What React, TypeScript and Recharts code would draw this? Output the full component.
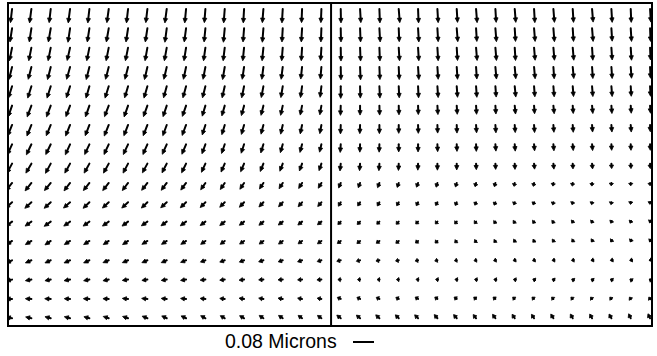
import React from "react";
import { ScatterChart, Scatter, XAxis, YAxis, ReferenceArea, ReferenceLine } from "recharts";

// grid: 34 columns (17 per panel) x 17 rows; displacements in nm, dy positive = down
const columns = Array.from({ length: 34 }, (_, i) => i);
const rows = Array.from({ length: 17 }, (_, i) => i);

const DX_NM: number[][] = [
  [-6, -7, -6, -7, -6, -7, -6, -6, -7, -5, -4, -4, -3, -4, -3, -2, -2, 1, 3, 2, 4, 2, 3, 3, 4, 3, 4, 3, 4, 3, 4, 3, 2, 3],
  [-8, -8, -9, -8, -8, -9, -8, -8, -7, -7, -5, -5, -4, -4, -3, -3, -2, 1, 2, 3, 2, 3, 3, 4, 3, 4, 3, 4, 4, 3, 4, 3, 3, 2],
  [-10, -10, -10, -11, -10, -10, -10, -9, -9, -8, -7, -6, -5, -5, -4, -3, -3, 1, 2, 2, 3, 3, 3, 3, 4, 4, 3, 4, 4, 4, 3, 3, 3, 2],
  [-12, -12, -12, -13, -12, -12, -12, -11, -11, -10, -9, -8, -7, -6, -6, -5, -4, 1, 2, 2, 2, 3, 3, 3, 3, 4, 4, 4, 3, 4, 3, 3, 3, 2],
  [-14, -14, -14, -14, -13, -14, -13, -13, -12, -12, -11, -10, -9, -8, -7, -6, -5, 0, 1, 2, 2, 2, 3, 3, 3, 3, 4, 3, 3, 3, 3, 3, 2, 2],
  [-15, -16, -16, -16, -15, -16, -15, -15, -14, -14, -12, -11, -10, -9, -8, -7, -6, -1, 0, 1, 1, 1, 2, 2, 2, 2, 3, 2, 3, 2, 3, 2, 2, 2],
  [-17, -17, -17, -17, -16, -17, -16, -16, -15, -15, -12, -11, -10, -9, -8, -7, -6, -1, -1, 0, 0, 1, 1, 1, 2, 2, 2, 2, 2, 2, 2, 2, 2, 1],
  [-18, -19, -19, -18, -18, -18, -18, -17, -17, -16, -13, -12, -11, -10, -9, -8, -7, -2, -1, -1, 0, 0, 1, 1, 1, 2, 2, 2, 2, 2, 2, 1, 1, 1],
  [-20, -21, -20, -20, -20, -20, -19, -19, -18, -17, -15, -14, -13, -12, -11, -10, -9, -3, -2, -2, -1, -1, 0, 0, 1, 1, 1, 2, 2, 1, 2, 1, 1, 1],
  [-23, -24, -24, -23, -23, -23, -22, -22, -21, -20, -18, -17, -16, -15, -14, -13, -12, -8, -7, -7, -6, -6, -5, -5, -4, -4, -3, -3, -2, -2, -1, -1, 0, 0],
  [-25, -25, -25, -25, -24, -24, -24, -23, -23, -22, -20, -19, -18, -17, -16, -15, -14, -9, -9, -8, -8, -7, -7, -6, -5, -5, -4, -4, -3, -3, -2, -2, -1, -1],
  [-24, -24, -25, -24, -24, -24, -23, -23, -22, -22, -20, -19, -18, -17, -17, -16, -15, -11, -11, -10, -10, -9, -8, -8, -7, -6, -6, -5, -5, -4, -4, -3, -3, -2],
  [-22, -23, -22, -22, -22, -21, -21, -21, -20, -20, -18, -17, -17, -16, -16, -15, -15, -13, -12, -12, -11, -10, -9, -8, -7, -6, -5, -5, -4, -4, -3, -3, -2, -2],
  [-23, -23, -22, -23, -22, -22, -22, -21, -21, -21, -19, -19, -18, -18, -17, -17, -16, -15, -14, -13, -12, -11, -10, -9, -8, -7, -6, -6, -5, -5, -4, -4, -4, -3],
  [-23, -23, -22, -23, -22, -22, -22, -21, -21, -21, -20, -19, -19, -18, -18, -17, -17, -11, -10, -9, -9, -8, -7, -7, -6, -6, -5, -5, -5, -4, -4, -4, -3, -3],
  [-23, -23, -23, -22, -23, -22, -22, -22, -21, -21, -20, -19, -19, -18, -18, -17, -16, -13, -12, -12, -11, -11, -10, -10, -9, -9, -8, -8, -7, -7, -6, -6, -5, -5],
  [-22, -22, -22, -22, -21, -21, -21, -20, -19, -19, -18, -17, -17, -16, -16, -15, -15, -15, -14, -14, -13, -13, -12, -12, -11, -11, -10, -10, -10, -9, -9, -9, -8, -8],
];

const DY_NM: number[][] = [
  [52, 53, 52, 53, 53, 52, 53, 52, 53, 53, 52, 53, 53, 52, 53, 52, 52, 53, 52, 53, 52, 53, 52, 51, 52, 51, 51, 52, 51, 51, 50, 51, 51, 50],
  [52, 52, 52, 53, 52, 52, 52, 52, 53, 52, 52, 53, 52, 53, 52, 52, 52, 52, 52, 52, 51, 52, 51, 51, 50, 51, 50, 50, 51, 50, 50, 49, 50, 50],
  [50, 50, 50, 49, 50, 50, 50, 50, 50, 50, 50, 50, 50, 50, 50, 50, 49, 51, 51, 51, 50, 50, 50, 49, 49, 49, 49, 48, 48, 48, 48, 47, 48, 47],
  [48, 47, 48, 47, 48, 47, 47, 48, 47, 47, 47, 48, 47, 47, 47, 46, 46, 49, 49, 48, 48, 48, 47, 47, 46, 46, 45, 45, 45, 44, 44, 44, 43, 43],
  [45, 45, 45, 44, 45, 45, 44, 45, 44, 44, 44, 44, 44, 43, 43, 43, 42, 46, 45, 45, 44, 44, 43, 42, 42, 41, 41, 40, 40, 39, 39, 39, 38, 38],
  [43, 43, 43, 42, 43, 42, 43, 42, 42, 41, 40, 39, 38, 37, 37, 36, 35, 37, 36, 36, 35, 34, 34, 33, 33, 32, 32, 31, 31, 30, 30, 30, 29, 29],
  [42, 42, 41, 42, 41, 42, 41, 41, 41, 40, 38, 37, 36, 35, 35, 34, 33, 34, 33, 33, 32, 32, 31, 31, 30, 30, 29, 29, 28, 28, 27, 27, 27, 26],
  [40, 40, 39, 40, 39, 39, 39, 39, 38, 38, 36, 35, 34, 33, 32, 31, 30, 31, 30, 30, 29, 29, 28, 27, 27, 26, 26, 25, 25, 24, 24, 23, 23, 23],
  [37, 36, 37, 36, 36, 36, 36, 35, 35, 35, 33, 32, 31, 30, 29, 28, 27, 28, 27, 27, 26, 25, 25, 24, 23, 22, 22, 21, 21, 20, 20, 19, 19, 19],
  [30, 30, 29, 30, 29, 29, 29, 28, 28, 27, 26, 25, 24, 23, 22, 21, 20, 19, 18, 18, 17, 16, 16, 15, 14, 14, 13, 13, 12, 12, 12, 11, 11, 11],
  [23, 23, 23, 22, 23, 22, 22, 22, 21, 21, 20, 19, 19, 18, 17, 17, 16, 15, 14, 14, 13, 13, 12, 12, 11, 11, 10, 10, 10, 9, 9, 9, 8, 8],
  [18, 17, 18, 17, 17, 17, 17, 16, 16, 16, 15, 15, 14, 14, 13, 13, 12, 11, 11, 10, 10, 9, 9, 9, 8, 8, 7, 7, 7, 6, 6, 6, 6, 5],
  [15, 14, 15, 14, 14, 14, 14, 13, 13, 13, 13, 13, 12, 12, 12, 11, 11, 10, 10, 9, 9, 8, 8, 7, 6, 6, 5, 5, 5, 4, 4, 4, 4, 4],
  [11, 10, 10, 10, 10, 9, 9, 9, 9, 8, 7, 7, 7, 6, 6, 6, 5, 4, 4, 3, 3, 3, 3, 2, 2, 2, 2, 2, 1, 1, 1, 1, 1, 1],
  [5, 4, 4, 4, 4, 4, 3, 3, 3, 3, 2, 2, 2, 1, 1, 1, 1, 0, 0, 0, 0, -1, -1, -1, -1, -1, -1, -2, -2, -2, -2, -2, -2, -2],
  [0, -1, -1, -1, -1, -1, -2, -2, -2, -2, -2, -2, -3, -3, -3, -3, -3, -6, -6, -6, -6, -7, -7, -7, -7, -7, -7, -7, -7, -7, -7, -7, -7, -7],
  [-5, -5, -6, -6, -6, -7, -7, -8, -9, -9, -10, -10, -10, -11, -11, -11, -11, -12, -12, -13, -13, -13, -14, -14, -14, -15, -15, -15, -16, -16, -16, -16, -17, -17],
];

const SCALE_NM = 80;
const SCALE_LABEL = "0.08 Microns";
const SCALE_PX = 21;
const PX_PER_NM = SCALE_PX / SCALE_NM;

const W = 657;
const H = 356;
const X_DOMAIN: [number, number] = [-0.21, 33.1];
const Y_DOMAIN: [number, number] = [-0.31, 16.4];

const data = rows.flatMap((r) =>
  columns.map((c) => ({ x: c, y: r, dx: DX_NM[r][c], dy: DY_NM[r][c] }))
);

const Arrow = (props: any) => {
  const { cx, cy, payload } = props;
  const ex = cx + payload.dx * PX_PER_NM;
  const ey = cy + payload.dy * PX_PER_NM;
  const len = Math.hypot(ex - cx, ey - cy);
  if (len < 0.8) return <circle cx={cx} cy={cy} r={1.8} fill="#000" />;
  const ux = (ex - cx) / len;
  const uy = (ey - cy) / len;
  const h = Math.min(4.5, Math.max(2.5, len * 0.7));
  const w = 2.1;
  const bx = ex - ux * h;
  const by = ey - uy * h;
  return (
    <g>
      <line x1={cx} y1={cy} x2={bx} y2={by} stroke="#000" strokeWidth={2} strokeLinecap="round" />
      <polygon
        points={`${ex},${ey} ${bx - uy * w},${by + ux * w} ${bx + uy * w},${by - ux * w}`}
        fill="#000"
        stroke="#000"
        strokeWidth={0.8}
        strokeLinejoin="round"
      />
    </g>
  );
};

export default function App() {
  return (
    <div style={{ position: "absolute", left: 0, top: 0, width: W, height: H, background: "#fff" }}>
      <ScatterChart width={W} height={H} margin={{ top: 3, right: 5, left: 8, bottom: 30 }}>
        <XAxis type="number" dataKey="x" domain={X_DOMAIN} hide allowDataOverflow />
        <YAxis type="number" dataKey="y" domain={Y_DOMAIN} reversed hide allowDataOverflow />
        <ReferenceArea
          x1={X_DOMAIN[0]}
          x2={X_DOMAIN[1]}
          y1={Y_DOMAIN[0]}
          y2={Y_DOMAIN[1]}
          fill="none"
          fillOpacity={0}
          stroke="#000"
          strokeWidth={2}
        />
        <ReferenceLine x={16.5} stroke="#000" strokeWidth={2} />
        <Scatter data={data} shape={Arrow} isAnimationActive={false} />
      </ScatterChart>
      <div
        style={{
          position: "absolute",
          left: 225,
          top: 330,
          fontFamily: "'Liberation Sans', Arial, sans-serif",
          fontSize: 19.5,
          color: "#000",
          whiteSpace: "nowrap",
          display: "flex",
          alignItems: "center",
        }}
      >
        <span>{SCALE_LABEL}</span>
        <span
          style={{
            display: "inline-block",
            width: SCALE_NM * PX_PER_NM,
            height: 2,
            background: "#000",
            marginLeft: 16,
          }}
        />
      </div>
    </div>
  );
}
